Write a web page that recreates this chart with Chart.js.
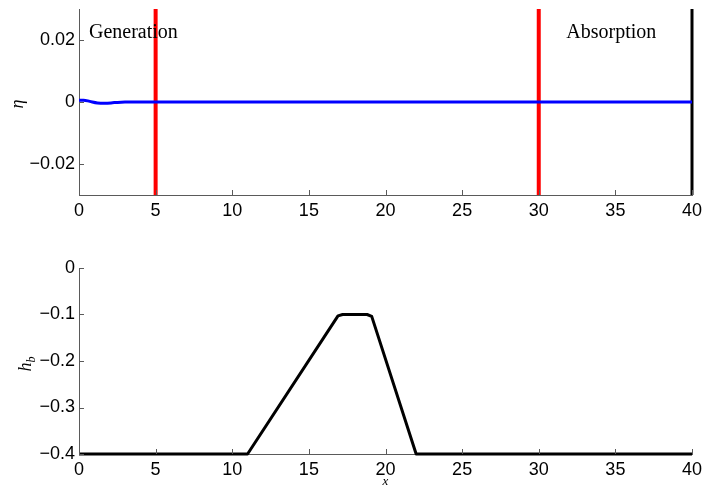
<!DOCTYPE html>
<html>
<head>
<meta charset="utf-8">
<script src="https://cdn.jsdelivr.net/npm/chart.js@4.4.1/dist/chart.umd.min.js"></script>
<style>
  body { margin: 0; background: #fff; }
  canvas { position: absolute; left: 0; }
  #top { top: 0; }
  #bot { top: 240px; }
</style>
</head>
<body>
<canvas id="top" width="702" height="240"></canvas>
<canvas id="bot" width="702" height="249"></canvas>
<script>
// free surface elevation along the flume
const etaX = [0, 0.3, 0.7, 1.2, 1.7, 2.3, 3, 3.5, 40];
const etaY = [0.0006, 0.0006, 0.0002, -0.0003, -0.0004, -0.0002, 0, 0, 0];
// relaxation zone edges and the wall at the end
const generationX = 5;
const absorptionX = 30;
const wallX = 40;
const zoneLabels = ['Generation', 'Absorption'];
const zoneLabelX = [0.65, 31.8];
const zoneLabelY = 0.0208;
// bottom profile (submerged bar)
const bedX = [0, 11, 16.9, 17.2, 18.8, 19.1, 22, 40];
const bedY = [-0.4, -0.4, -0.103, -0.1, -0.1, -0.104, -0.4, -0.4];
// ticks
const xTicks = [0, 5, 10, 15, 20, 25, 30, 35, 40];
const etaTicks = [-0.02, 0, 0.02];
const bedTicks = [-0.4, -0.3, -0.2, -0.1, 0];

const axisCol = '#5a5a5a';
const tickFont = { family: 'Liberation Sans', size: 18 };

function fmt(v) {
  let s = String(Math.round(v * 1000) / 1000);
  return s.replace('-', '\u2212');
}

function pts(xs, ys) { return xs.map((x, i) => ({ x: x, y: ys[i] })); }

// matlab style ticks, pointing into the axes
const inTicks = {
  id: 'inTicks',
  afterDraw(chart) {
    const ctx = chart.ctx, a = chart.chartArea;
    const xs = chart.scales.x, ys = chart.scales.y;
    ctx.save();
    ctx.strokeStyle = axisCol;
    ctx.lineWidth = 1;
    ctx.beginPath();
    xs.ticks.forEach(t => {
      const px = Math.round(xs.getPixelForValue(t.value)) + 0.5;
      ctx.moveTo(px, a.bottom);
      ctx.lineTo(px, a.bottom - 5);
    });
    ys.ticks.forEach(t => {
      const py = Math.round(ys.getPixelForValue(t.value)) + 0.5;
      ctx.moveTo(a.left, py);
      ctx.lineTo(a.left + 5, py);
    });
    ctx.stroke();
    ctx.restore();
  }
};

// rotated y label, with optional subscript
function yLabel(text, sub, cx, cy) {
  return {
    id: 'yLabel',
    afterDraw(chart) {
      const ctx = chart.ctx;
      ctx.save();
      ctx.translate(cx, cy);
      ctx.rotate(-Math.PI / 2);
      ctx.fillStyle = '#000';
      ctx.textBaseline = 'alphabetic';
      ctx.font = 'italic 18px "Liberation Serif"';
      const w = ctx.measureText(text).width;
      let sw = 0;
      if (sub) {
        ctx.font = 'italic 12px "Liberation Serif"';
        sw = ctx.measureText(sub).width;
      }
      const x0 = -(w + sw) / 2;
      ctx.font = 'italic 18px "Liberation Serif"';
      ctx.fillText(text, x0, 5);
      if (sub) {
        ctx.font = 'italic 12px "Liberation Serif"';
        ctx.fillText(sub, x0 + w, 9);
      }
      ctx.restore();
    }
  };
}

const zoneText = {
  id: 'zoneText',
  afterDraw(chart) {
    const ctx = chart.ctx;
    const xs = chart.scales.x, ys = chart.scales.y;
    ctx.save();
    ctx.fillStyle = '#000';
    ctx.font = '20px "Liberation Serif"';
    ctx.textBaseline = 'alphabetic';
    zoneLabels.forEach((s, i) => {
      ctx.fillText(s, xs.getPixelForValue(zoneLabelX[i]), ys.getPixelForValue(zoneLabelY));
    });
    ctx.restore();
  }
};

function fixBox(w, h) {
  return function (scale) {
    if (w != null) scale.width = w;
    if (h != null) scale.height = h;
    scale.paddingLeft = 0; scale.paddingRight = 0;
    scale.paddingTop = 0; scale.paddingBottom = 0;
  };
}

function xScale(h, title) {
  return {
    type: 'linear', min: 0, max: 40,
    grid: { display: false, drawTicks: false },
    border: { display: true, color: axisCol, width: 1 },
    ticks: { color: '#000', font: tickFont, padding: 5, autoSkip: false, maxRotation: 0, callback: fmt },
    afterBuildTicks: s => { s.ticks = xTicks.map(v => ({ value: v })); },
    afterFit: fixBox(null, h),
    title: title
  };
}

function yScale(min, max, ticks) {
  return {
    type: 'linear', min: min, max: max,
    grid: { display: false, drawTicks: false },
    border: { display: true, color: axisCol, width: 1 },
    ticks: { color: '#000', font: tickFont, padding: 4, callback: fmt },
    afterBuildTicks: s => { s.ticks = ticks.map(v => ({ value: v })); },
    afterFit: fixBox(79, null)
  };
}

const common = {
  responsive: false,
  animation: false,
  devicePixelRatio: 1,
  plugins: { legend: { display: false }, tooltip: { enabled: false } },
  elements: { point: { radius: 0 } }
};

new Chart(document.getElementById('top'), {
  type: 'line',
  data: {
    datasets: [
      { data: pts(etaX, etaY), borderColor: '#0000ff', borderWidth: 3, cubicInterpolationMode: 'monotone' },
      { data: pts([generationX, generationX], [-0.03, 0.03]), borderColor: '#ff0000', borderWidth: 4 },
      { data: pts([absorptionX, absorptionX], [-0.03, 0.03]), borderColor: '#ff0000', borderWidth: 4 },
      { data: pts([wallX, wallX], [-0.03, 0.03]), borderColor: '#000', borderWidth: 3, clip: false }
    ]
  },
  options: Object.assign({}, common, {
    layout: { padding: { left: 0, right: 10, top: 9, bottom: 0 } },
    scales: { x: xScale(45), y: yScale(-0.03, 0.03, etaTicks) }
  }),
  plugins: [inTicks, zoneText, yLabel('\u03b7', '', 18, 104)]
});

new Chart(document.getElementById('bot'), {
  type: 'line',
  data: {
    datasets: [
      { data: pts(bedX, bedY), borderColor: '#000', borderWidth: 3, borderJoinStyle: 'round', clip: false }
    ]
  },
  options: Object.assign({}, common, {
    layout: { padding: { left: 0, right: 10, top: 28, bottom: 0 } },
    scales: {
      x: xScale(35, { display: true, text: 'x', color: '#000', padding: 0,
        font: { family: 'Liberation Serif', style: 'italic', size: 13 } }),
      y: yScale(-0.4, 0, bedTicks)
    }
  }),
  plugins: [inTicks, yLabel('h', 'b', 26, 364 - 240)]
});
</script>
</body>
</html>
